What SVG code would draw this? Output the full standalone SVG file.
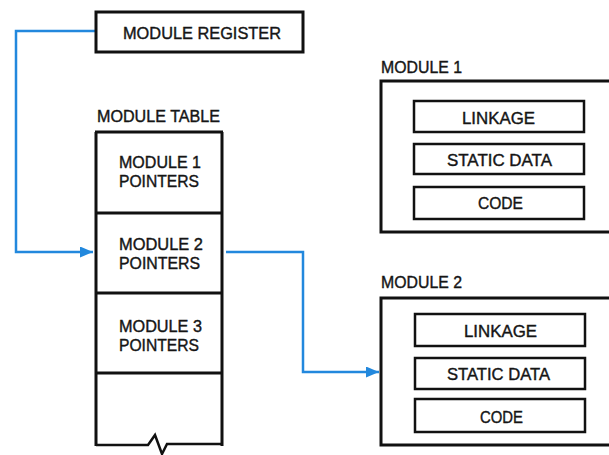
<svg xmlns="http://www.w3.org/2000/svg" width="609" height="455" viewBox="0 0 609 455">
<defs>
<style>
.t{font-family:"Liberation Sans","DejaVu Sans",sans-serif;font-size:17px;fill:#151515;stroke:#151515;stroke-width:0.4}
.box{fill:#fff;stroke:#111;stroke-width:3}
.inner{fill:#fff;stroke:#111;stroke-width:2.5}
.div{stroke:#111;stroke-width:2.5;fill:none}
.conn{fill:none;stroke:#2288dd;stroke-width:2.5}
</style>
<marker id="ah" markerWidth="13" markerHeight="11" refX="13" refY="5.5" orient="auto" markerUnits="userSpaceOnUse">
<path d="M0,0 L13,5.5 L0,11 Z" fill="#2288dd"/>
</marker>
</defs>
<rect width="609" height="455" fill="#fff"/>

<g id="connectors">
<path class="conn" d="M95,31 H16 V252 H93" marker-end="url(#ah)"/>
<path class="conn" d="M226,252 H303 V372 H379" marker-end="url(#ah)"/>
</g>

<g id="module-register">
<rect class="box" x="96" y="12" width="207" height="40"/>
<text class="t" x="123" y="39" textLength="158" lengthAdjust="spacingAndGlyphs">MODULE REGISTER</text>
</g>

<g id="module-table">
<text class="t" x="97" y="122" textLength="123" lengthAdjust="spacingAndGlyphs">MODULE TABLE</text>
<path class="div" d="M95,132 H223 M95,213 H223 M95,293 H223 M95,373 H223" style="stroke-width:3"/>
<path class="div" d="M96,132 V446 M222,132 V446" style="stroke-width:3"/>
<path class="div" d="M96,445 H148 L155,435 L162,454 L167,444 H222" style="stroke-width:2.5"/>
</g>

<g id="module1-pointers">
<text class="t" x="119" y="168" textLength="82" lengthAdjust="spacingAndGlyphs">MODULE 1</text>
<text class="t" x="119" y="187" textLength="80" lengthAdjust="spacingAndGlyphs">POINTERS</text>
</g>
<g id="module2-pointers">
<text class="t" x="119" y="250" textLength="84" lengthAdjust="spacingAndGlyphs">MODULE 2</text>
<text class="t" x="119" y="269" textLength="81" lengthAdjust="spacingAndGlyphs">POINTERS</text>
</g>
<g id="module3-pointers">
<text class="t" x="119" y="332" textLength="83" lengthAdjust="spacingAndGlyphs">MODULE 3</text>
<text class="t" x="119" y="351" textLength="80" lengthAdjust="spacingAndGlyphs">POINTERS</text>
</g>

<g id="module1">
<text class="t" x="381" y="73" textLength="81" lengthAdjust="spacingAndGlyphs">MODULE 1</text>
<rect class="box" x="381" y="81" width="240" height="151"/>
<g id="m1-linkage"><rect class="inner" x="414" y="101" width="170" height="31"/>
<text class="t" x="462" y="124" textLength="73" lengthAdjust="spacingAndGlyphs">LINKAGE</text></g>
<g id="m1-static"><rect class="inner" x="414" y="144" width="170" height="30"/>
<text class="t" x="447" y="166" textLength="105" lengthAdjust="spacingAndGlyphs">STATIC DATA</text></g>
<g id="m1-code"><rect class="inner" x="414" y="187" width="170" height="32"/>
<text class="t" x="478" y="209" textLength="45" lengthAdjust="spacingAndGlyphs">CODE</text></g>
</g>

<g id="module2">
<text class="t" x="381" y="288" textLength="81" lengthAdjust="spacingAndGlyphs">MODULE 2</text>
<rect class="box" x="381" y="298" width="240" height="147"/>
<g id="m2-linkage"><rect class="inner" x="415" y="314" width="170" height="32"/>
<text class="t" x="464" y="337" textLength="73" lengthAdjust="spacingAndGlyphs">LINKAGE</text></g>
<g id="m2-static"><rect class="inner" x="415" y="358" width="170" height="31"/>
<text class="t" x="447" y="380" textLength="103" lengthAdjust="spacingAndGlyphs">STATIC DATA</text></g>
<g id="m2-code"><rect class="inner" x="415" y="399" width="170" height="33"/>
<text class="t" x="480" y="423" textLength="43" lengthAdjust="spacingAndGlyphs">CODE</text></g>
</g>
</svg>
